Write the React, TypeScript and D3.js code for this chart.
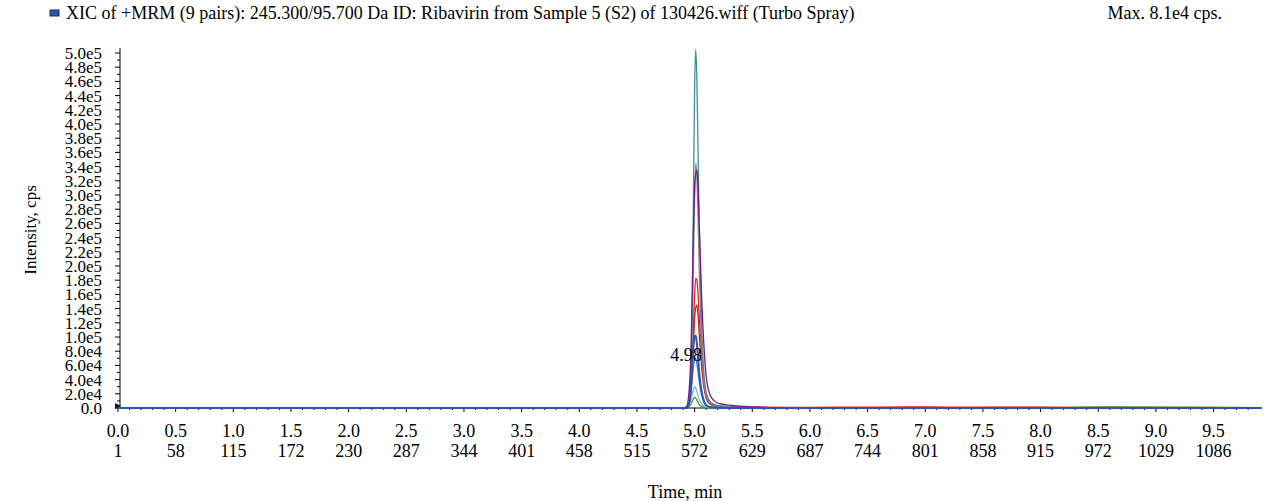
import React from "react";
import * as d3 from "d3";

const TITLE = "XIC of +MRM (9 pairs): 245.300/95.700 Da ID: Ribavirin from Sample 5 (S2) of 130426.wiff (Turbo Spray)";
const MAX_LABEL = "Max. 8.1e4 cps.";
const PEAK_LABEL = "4.98";
const PEAK_LABEL_TIME = 4.98;
const PEAK_LABEL_VALUE = 7.2e4;

const timeTicks = [0.0, 0.5, 1.0, 1.5, 2.0, 2.5, 3.0, 3.5, 4.0, 4.5, 5.0, 5.5, 6.0, 6.5, 7.0, 7.5, 8.0, 8.5, 9.0, 9.5];
const scanLabels = ["1", "58", "115", "172", "230", "287", "344", "401", "458", "515", "572", "629", "687", "744", "801", "858", "915", "972", "1029", "1086"];
const yTickValues = [0, 2e4, 4e4, 6e4, 8e4, 1e5, 1.2e5, 1.4e5, 1.6e5, 1.8e5, 2e5, 2.2e5, 2.4e5, 2.6e5, 2.8e5, 3e5, 3.2e5, 3.4e5, 3.6e5, 3.8e5, 4e5, 4.2e5, 4.4e5, 4.6e5, 4.8e5, 5e5];
const yTickLabels = ["0.0", "2.0e4", "4.0e4", "6.0e4", "8.0e4", "1.0e5", "1.2e5", "1.4e5", "1.6e5", "1.8e5", "2.0e5", "2.2e5", "2.4e5", "2.6e5", "2.8e5", "3.0e5", "3.2e5", "3.4e5", "3.6e5", "3.8e5", "4.0e5", "4.2e5", "4.4e5", "4.6e5", "4.8e5", "5.0e5"];

// shared time grid (min)
const times = [0, 2.0, 4.0, 4.90, 4.93, 4.95, 4.97, 4.98, 4.99, 5.00, 5.01, 5.02, 5.03, 5.04, 5.06, 5.08, 5.10, 5.13, 5.17, 5.22, 5.30, 5.40, 5.50, 5.8, 6.2, 6.6, 7.0, 7.4, 7.8, 8.2, 8.6, 9.0, 9.4, 9.92];

const greenValues = [0, 0, 0, 0, 0, 2e3, 6e3, 1.0e4, 1.3e4, 1.5e4, 1.4e4, 1.1e4, 8e3, 5e3, 2.5e3, 1e3, 500, 300, 0, 0, 0, 0, 0, 200, 300, 300, 400, 600, 800, 1000, 1400, 1200, 800, 400];
const lightBlueValues = [0, 0, 0, 0, 0, 4e3, 1.2e4, 2.0e4, 2.6e4, 3.0e4, 2.8e4, 2.3e4, 1.7e4, 1.2e4, 6e3, 3e3, 1.5e3, 800, 400, 200, 0, 0, 0, 0, 0, 0, 0, 0, 0, 0, 0, 0, 0, 0];
const midBlueValues = [0, 0, 0, 0, 0, 8e3, 2.5e4, 4.2e4, 5.8e4, 6.8e4, 7.0e4, 6.2e4, 5.0e4, 3.7e4, 1.8e4, 8e3, 3.5e3, 1.5e3, 800, 400, 200, 0, 0, 0, 0, 0, 0, 0, 0, 0, 0, 0, 0, 0];
const darkRedValues = [0, 0, 0, 0, 0, 5e3, 2.5e4, 5.5e4, 9e4, 1.25e5, 1.42e5, 1.45e5, 1.3e5, 1.05e5, 6e4, 3e4, 1.4e4, 6e3, 3e3, 2e3, 1.5e3, 1.2e3, 1e3, 500, 600, 600, 700, 600, 500, 600, 500, 500, 400, 300];
const redValues = [0, 0, 0, 0, 0, 6e3, 3.2e4, 7e4, 1.15e5, 1.6e5, 1.83e5, 1.8e5, 1.6e5, 1.3e5, 7.5e4, 3.5e4, 1.6e4, 7e3, 3.5e3, 2.5e3, 2e3, 1.8e3, 1.2e3, 900, 1100, 1300, 1500, 1200, 1300, 1000, 900, 1000, 800, 600];
const grayValues = [0, 0, 0, 0, 0, 8e3, 4.5e4, 1.1e5, 2.1e5, 2.95e5, 3.45e5, 3.25e5, 2.65e5, 1.95e5, 9e4, 4e4, 1.8e4, 8e3, 4e3, 2.5e3, 1.5e3, 1e3, 800, 0, 0, 0, 0, 0, 0, 0, 0, 0, 0, 0];
const tealValues = [0, 0, 0, 0, 0, 1e4, 6e4, 1.5e5, 3.0e5, 4.5e5, 5.05e5, 4.6e5, 3.6e5, 2.6e5, 1.2e5, 5e4, 2.2e4, 1e4, 5e3, 3e3, 2e3, 1.5e3, 1e3, 0, 0, 0, 0, 0, 0, 0, 0, 0, 0, 0];
const purpleValues = [0, 0, 0, 0, 2e3, 2e4, 9e4, 1.7e5, 2.5e5, 3.1e5, 3.3e5, 3.35e5, 3.1e5, 2.6e5, 1.6e5, 9e4, 4.5e4, 2e4, 1e4, 6e3, 4e3, 2.5e3, 1.5e3, 0, 0, 0, 0, 0, 0, 0, 0, 0, 0, 0];
const blueValues = [0, 0, 0, 0, 0, 6e3, 3.5e4, 6.5e4, 8.8e4, 1.0e5, 1.02e5, 9e4, 7e4, 5e4, 2.4e4, 1e4, 4e3, 1.5e3, 600, 300, 0, 0, 0, 0, 0, 0, 0, 0, 0, 0, 0, 0, 0, 0];

const seriesNames = ["green", "lightBlue", "midBlue", "darkRed", "red", "gray", "teal", "purple", "blue"];
const seriesColors = ["#3c9a3c", "#7ab8e6", "#3b7fd0", "#c02828", "#e82020", "#8c8c8c", "#3f8f96", "#7a1a80", "#2a55b0"];
const seriesValues = [greenValues, lightBlueValues, midBlueValues, darkRedValues, redValues, grayValues, tealValues, purpleValues, blueValues];

const W = 1266;
const H = 501;
const FONT = '"Liberation Serif", "DejaVu Serif", serif';

export default function App() {
  const x = d3.scaleLinear().domain([0, 9.92]).range([118, 1262]);
  const y = d3.scaleLinear().domain([0, 5e5]).range([408, 53]);
  const line = d3
    .line<[number, number]>()
    .x((d) => x(d[0]))
    .y((d) => y(d[1]))
    .curve(d3.curveMonotoneX);

  const minorX = d3.range(0, 99).map((i) => i / 10);
  const minorY = d3.range(0, 51).map((i) => i * 1e4);
  const ts = { fontFamily: FONT } as React.CSSProperties;

  return (
    <svg
      width={W}
      height={H}
      style={{ position: "absolute", left: 0, top: 0, background: "#fff", fontFamily: FONT }}
    >
      <rect x={0} y={0} width={W} height={H} fill="#fff" />
      {/* title */}
      <rect x={50} y={10} width={9} height={6} fill="#2a55b0" stroke="#1a2a50" strokeWidth={1} />
      <text x={66} y={19} fontSize={18} fill="#000" style={ts}>{TITLE}</text>
      <text x={1222} y={19} fontSize={18} fill="#000" textAnchor="end" style={ts}>{MAX_LABEL}</text>

      {/* y axis */}
      <line x1={120} x2={120} y1={y(5.07e5)} y2={y(0)} stroke="#000" strokeWidth={1} />
      {minorY.map((v) => (
        <line key={"my" + v} x1={v % 2e4 === 0 ? 115 : 117} x2={120} y1={y(v)} y2={y(v)} stroke="#000" strokeWidth={1} />
      ))}
      {yTickValues.map((v, i) => (
        <text key={"yl" + v} x={102} y={y(v) + 6} fontSize={17} textAnchor="end" fill="#000" style={ts}>
          {yTickLabels[i]}
        </text>
      ))}
      <text
        x={32}
        y={230}
        fontSize={17}
        textAnchor="middle"
        transform="rotate(-90 32 230)"
        dominantBaseline="middle"
        fill="#000"
        style={ts}
      >
        Intensity, cps
      </text>

      {/* x axis */}
      <line x1={x(0)} x2={x(9.92)} y1={y(0)} y2={y(0)} stroke="#000" strokeWidth={1} />
      {minorX.map((t) => (
        <line
          key={"mx" + t}
          x1={x(t)}
          x2={x(t)}
          y1={y(0)}
          y2={y(0) + (Math.round(t * 10) % 5 === 0 ? 4 : 2)}
          stroke="#000"
          strokeWidth={1}
        />
      ))}
      {timeTicks.map((t, i) => (
        <g key={"xt" + t}>
          <text x={x(t)} y={437} fontSize={18} textAnchor="middle" fill="#000" style={ts}>
            {t.toFixed(1)}
          </text>
          <text x={x(t)} y={457} fontSize={18} textAnchor="middle" fill="#000" style={ts}>
            {scanLabels[i]}
          </text>
        </g>
      ))}
      <text x={685} y={498} fontSize={18} textAnchor="middle" fill="#000" style={ts}>
        Time, min
      </text>

      {/* traces */}
      {seriesValues.map((vals, si) => (
        <path
          key={seriesNames[si]}
          d={line(times.map((t, i) => [t, vals[i]] as [number, number])) || ""}
          fill="none"
          stroke={seriesColors[si]}
          strokeWidth={si === seriesValues.length - 1 ? 2 : 1.3}
          strokeLinejoin="round"
        />
      ))}

      {/* origin marker */}
      <path d={`M${x(0) - 3},${y(0) - 5} L${x(0) + 3},${y(0) - 2} L${x(0) - 3},${y(0) + 1} Z`} fill="#111" />

      {/* peak label */}
      <text x={686} y={361} fontSize={18} textAnchor="middle" fill="#000" style={ts}>
        {PEAK_LABEL}
      </text>
    </svg>
  );
}
